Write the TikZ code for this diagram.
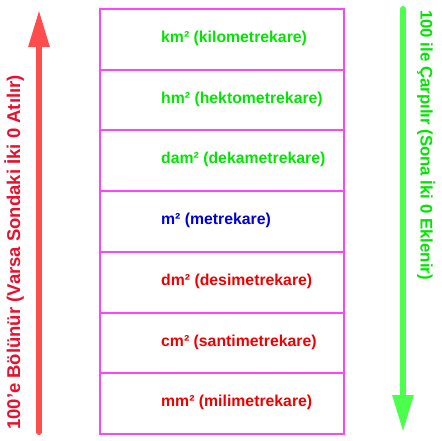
\documentclass[tikz,border=0pt]{standalone}
\usepackage{fontspec}
\setmainfont{Liberation Sans}
\usetikzlibrary{arrows.meta}
\definecolor{boxmag}{HTML}{FF44FF}
\definecolor{lgreen}{HTML}{00E600}
\definecolor{lblue}{HTML}{0000DD}
\definecolor{lred}{HTML}{EE0000}
\definecolor{arrred}{HTML}{FF4C4C}
\definecolor{arrgreen}{HTML}{4CFF4C}
\definecolor{sidered}{HTML}{E8102E}
\begin{document}
\begin{tikzpicture}[x=1pt,y=-1pt,
  rowbox/.style={draw=boxmag,line width=2pt,minimum width=244pt,minimum height=60.7pt,inner sep=0pt,anchor=north west},
  unit/.style={font=\bfseries\fontsize{15.8}{18}\selectfont,anchor=west,inner sep=0pt},
  bigarrow/.style={line width=6pt,line cap=round,-{Triangle[length=37pt,width=20pt]}},
  sidelabel/.style={font=\bfseries\fontsize{18.5}{20}\selectfont,inner sep=0pt}]
\useasboundingbox (0,0) rectangle (441,441);
\foreach \i/\name in {0/r1,1/r2,2/r3,3/r4,4/r5,5/r6,6/r7}{
  \node[rowbox] (\name) at (99,{8+60.7*\i}) {};
}
\node[unit,text=lgreen] (t1) at (161,38.5) {km² (kilometrekare)};
\node[unit,text=lgreen] (t2) at (161,99.2) {hm² (hektometrekare)};
\node[unit,text=lgreen] (t3) at (161,159.9) {dam² (dekametrekare)};
\node[unit,text=lblue] (t4) at (161,220.6) {m² (metrekare)};
\node[unit,text=lred] (t5) at (161,281.3) {dm² (desimetrekare)};
\node[unit,text=lred] (t6) at (161,342) {cm² (santimetrekare)};
\node[unit,text=lred] (t7) at (161,402.7) {mm² (milimetrekare)};
\coordinate (ra) at (39,432);
\coordinate (rb) at (39,10);
\draw[bigarrow,draw=arrred,fill=arrred] (ra) -- (rb);
\coordinate (ga) at (403,9);
\coordinate (gb) at (403,432);
\draw[bigarrow,draw=arrgreen,fill=arrgreen] (ga) -- (gb);
\node[sidelabel,text=sidered,rotate=90] (ll) at (14,252.5) {100'e Bölünür (Varsa Sondaki İki 0 Atılır)};
\node[sidelabel,text=lgreen,rotate=-90,font=\bfseries\fontsize{16.8}{18}\selectfont] (rl) at (426,145) {100 ile Çarpılır (Sona İki 0 Eklenir)};
\end{tikzpicture}
\end{document}
